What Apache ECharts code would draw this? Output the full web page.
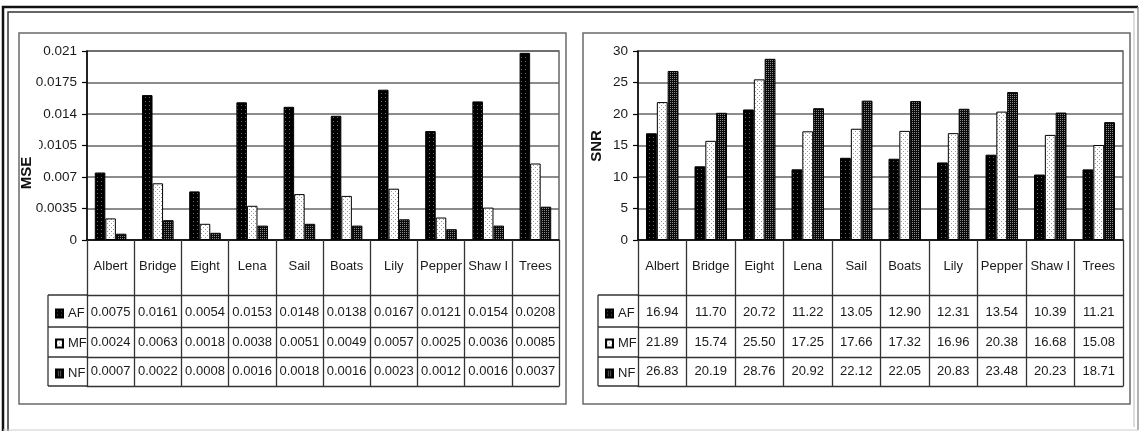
<!DOCTYPE html>
<html><head><meta charset="utf-8">
<script src="https://cdn.jsdelivr.net/npm/echarts@6/dist/echarts.min.js"></script>
<style>html,body{margin:0;padding:0;background:#fff}#c{width:1141px;height:431px}</style>
</head><body><div id="c"></div>
<script>
const categories = ['Albert','Bridge','Eight','Lena','Sail','Boats','Lily','Pepper','Shaw I','Trees'];
const seriesNames = ['AF','MF','NF'];
const mseAF = [0.0075,0.0161,0.0054,0.0153,0.0148,0.0138,0.0167,0.0121,0.0154,0.0208];
const mseMF = [0.0024,0.0063,0.0018,0.0038,0.0051,0.0049,0.0057,0.0025,0.0036,0.0085];
const mseNF = [0.0007,0.0022,0.0008,0.0016,0.0018,0.0016,0.0023,0.0012,0.0016,0.0037];
const snrAF = [16.94,11.70,20.72,11.22,13.05,12.90,12.31,13.54,10.39,11.21];
const snrMF = [21.89,15.74,25.50,17.25,17.66,17.32,16.96,20.38,16.68,15.08];
const snrNF = [26.83,20.19,28.76,20.92,22.12,22.05,20.83,23.48,20.23,18.71];
const mseAxis = {min: 0, max: 0.021, interval: 0.0035};
const snrAxis = {min: 0, max: 30, interval: 5};

const FONT = 'Liberation Sans, Arial, sans-serif';
function pat(w, h, bg, dots, dc) {
  const c = document.createElement('canvas'); c.width = w; c.height = h;
  const g = c.getContext('2d'); g.fillStyle = bg; g.fillRect(0, 0, w, h);
  g.fillStyle = dc; dots.forEach(([x, y]) => g.fillRect(x, y, 1, 1));
  return {image: c, repeat: 'repeat'};
}
const fills = [
  pat(4, 4, '#000', [[1, 1]], '#6a6a6a'),
  pat(4, 4, '#fff', [[1, 1], [3, 3]], '#9a9a9a'),
  pat(2, 2, '#0a0a0a', [[0, 0]], '#8a8a8a')
];

const rowOffsets = [55, 87, 117];
const rowHeights = [32, 30, 29];
const rowMargins = [11, 9, 8];
const tableLine = {color: '#333', width: 1.3};

function panel(gi, vals, ax, fmtTick, fmtVal) {
  const xAxes = [{
    type: 'category', gridIndex: gi, data: categories, position: 'bottom',
    axisLine: {lineStyle: {color: '#000', width: 1.5}},
    axisTick: {show: true, alignWithLabel: false, interval: 0, length: 55, lineStyle: tableLine},
    axisLabel: {interval: 0, margin: 20, color: '#1a1a1a', fontSize: 13, fontFamily: FONT}
  }];
  vals.forEach((arr, r) => {
    xAxes.push({
      type: 'category', gridIndex: gi, data: categories, position: 'bottom', offset: rowOffsets[r],
      axisLine: {show: true, lineStyle: tableLine},
      axisTick: {show: true, alignWithLabel: false, interval: 0, length: rowHeights[r], lineStyle: tableLine},
      axisLabel: {interval: 0, margin: rowMargins[r], color: '#1a1a1a', fontSize: 13, fontFamily: FONT,
        formatter: (v, i) => fmtVal(arr[i])}
    });
  });
  xAxes.push({
    type: 'category', gridIndex: gi, data: categories, position: 'bottom', offset: 146,
    axisLine: {show: true, lineStyle: tableLine}, axisTick: {show: false}, axisLabel: {show: false}
  });
  const yAxis = {
    type: 'value', gridIndex: gi, min: ax.min, max: ax.max, interval: ax.interval,
    axisLine: {show: true, lineStyle: {color: '#000', width: 1.5}},
    axisTick: {show: true, length: 5, lineStyle: {color: '#000', width: 1.2}},
    axisLabel: {margin: 10, color: '#1a1a1a', fontSize: 13.5, fontFamily: FONT, formatter: fmtTick},
    splitLine: {lineStyle: {color: '#666', width: 1.5}}
  };
  return {xAxes, yAxis};
}

const L = panel(0, [mseAF, mseMF, mseNF], mseAxis, v => String(+(+v).toFixed(4)), v => v.toFixed(4));
const R = panel(1, [snrAF, snrMF, snrNF], snrAxis, v => String(v), v => v.toFixed(2));
const xAxis = L.xAxes.concat(R.xAxes);
const rightX0 = L.xAxes.length;

const series = [];
[[mseAF, mseMF, mseNF], [snrAF, snrMF, snrNF]].forEach((set, gi) => {
  set.forEach((arr, k) => {
    series.push({
      type: 'bar', name: seriesNames[k], xAxisIndex: gi === 0 ? 0 : rightX0, yAxisIndex: gi,
      data: arr, barGap: '0%', barCategoryGap: '33%', animation: false,
      itemStyle: {color: fills[k], borderColor: '#000', borderWidth: 1}
    });
  });
});

function legend(left) {
  return {
    data: seriesNames, orient: 'vertical', left: left, top: 302, icon: 'rect',
    itemWidth: 7, itemHeight: 8, itemGap: 17, selectedMode: false,
    textStyle: {color: '#1a1a1a', fontSize: 13, fontFamily: FONT, padding: [0, 0, 0, 0]}
  };
}

function hline(x1, x2, y, st) { return {type: 'line', z: 50, shape: {x1, y1: y, x2, y2: y}, style: st}; }
function vline(x, y1, y2, st) { return {type: 'line', z: 50, shape: {x1: x, y1, x2: x, y2}, style: st}; }
const tSt = {stroke: '#333', lineWidth: 1.3};
const graphic = [
  {type: 'polyline', z: 50, shape: {points: [[3, 431], [3, 7], [1138, 7]]}, style: {stroke: '#111', lineWidth: 2.5, fill: null}},
  {type: 'polyline', z: 50, shape: {points: [[8, 431], [8, 12], [1134, 12]]}, style: {stroke: '#333', lineWidth: 1.5, fill: null}},
  vline(1138, 7, 430, {stroke: '#999', lineWidth: 1.5}),
  vline(1134, 12, 427, {stroke: '#bbb', lineWidth: 1}),
  hline(3, 1138, 430, {stroke: '#ccc', lineWidth: 1}),
  {type: 'rect', z: 50, shape: {x: 19, y: 33, width: 547, height: 371}, style: {stroke: '#6a6a6a', lineWidth: 1.5, fill: null}},
  {type: 'rect', z: 50, shape: {x: 583, y: 33, width: 547, height: 371}, style: {stroke: '#6a6a6a', lineWidth: 1.5, fill: null}},
  hline(48, 87, 295, tSt), hline(48, 87, 327, tSt), hline(48, 87, 357, tSt), hline(48, 87, 386, tSt), vline(48, 295, 386, tSt),
  hline(598, 638, 295, tSt), hline(598, 638, 327, tSt), hline(598, 638, 357, tSt), hline(598, 638, 386, tSt), vline(598, 295, 386, tSt),
  {type: 'rect', z: 100, shape: {x: 21, y: 137, width: 18, height: 62}, style: {fill: '#fff'}},
  {type: 'text', z: 101, x: 27, y: 173, rotation: Math.PI / 2,
    style: {text: 'MSE', font: 'bold 15px ' + FONT, fill: '#111', align: 'center', verticalAlign: 'middle'}},
  {type: 'text', z: 101, x: 597, y: 146, rotation: Math.PI / 2,
    style: {text: 'SNR', font: 'bold 15px ' + FONT, fill: '#111', align: 'center', verticalAlign: 'middle'}}
];

const chart = echarts.init(document.getElementById('c'), null, {renderer: 'canvas'});
chart.setOption({
  backgroundColor: '#fff',
  animation: false,
  textStyle: {fontFamily: FONT},
  grid: [
    {left: 87, width: 472, top: 51, height: 189, show: true, borderColor: '#666', borderWidth: 1.5, backgroundColor: 'transparent'},
    {left: 638, width: 485, top: 51, height: 189, show: true, borderColor: '#666', borderWidth: 1.5, backgroundColor: 'transparent'}
  ],
  legend: [legend(50), legend(600)],
  xAxis: xAxis,
  yAxis: [L.yAxis, R.yAxis],
  series: series,
  graphic: graphic
});
</script></body></html>
